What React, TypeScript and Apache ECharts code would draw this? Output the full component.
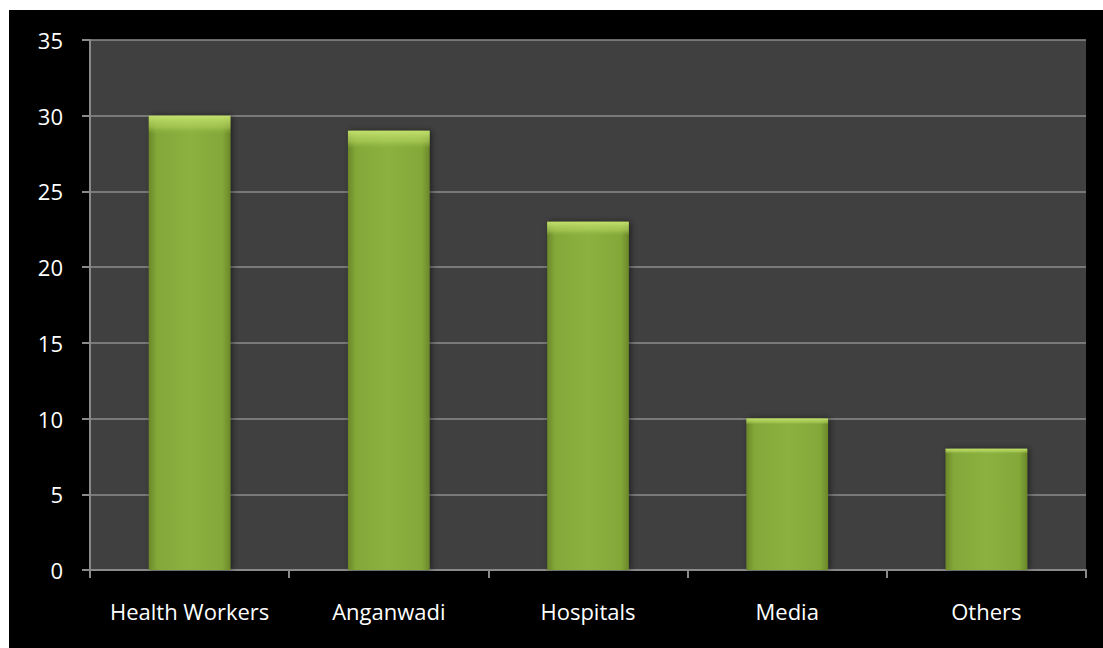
import React, { useEffect, useRef } from "react";
import * as echarts from "echarts";

const categories = ["Health Workers", "Anganwadi", "Hospitals", "Media", "Others"];
const values = [30, 29, 23, 10, 8];
const yMin = 0;
const yMax = 35;
const yInterval = 5;

export default function App() {
  const ref = useRef<HTMLDivElement>(null);
  useEffect(() => {
    document.body.style.margin = "0";
    const chart = echarts.init(ref.current!, null, { renderer: "svg" });
    const font = "'Open Sans', 'Liberation Sans', sans-serif";
    chart.setOption({
      animation: false,
      backgroundColor: "#000000",
      grid: { left: 81, right: 17, top: 30, bottom: 78, show: true, backgroundColor: "#404040", borderWidth: 0 },
      xAxis: {
        type: "category",
        data: categories,
        boundaryGap: true,
        axisLine: { show: true, lineStyle: { color: "#8a8a8a", width: 2 } },
        axisTick: { show: true, interval: 0, length: 8, alignWithLabel: false, lineStyle: { color: "#8a8a8a", width: 2 } },
        axisLabel: { interval: 0, hideOverlap: false, color: "#ffffff", fontSize: 22, fontFamily: font, margin: 30 },
        splitLine: { show: false },
      },
      yAxis: {
        type: "value",
        min: yMin,
        max: yMax,
        interval: yInterval,
        axisLine: { show: true, lineStyle: { color: "#8a8a8a", width: 2 } },
        axisTick: { show: true, length: 8, lineStyle: { color: "#8a8a8a", width: 2 } },
        axisLabel: { color: "#ffffff", fontSize: 22, fontFamily: font, margin: 27 },
        splitLine: { show: true, lineStyle: { color: "#8c8c8c", width: 1.5 } },
      },
      series: [
        {
          type: "bar",
          data: values,
          barWidth: "41%",
          itemStyle: {
            color: new echarts.graphic.LinearGradient(0, 0, 1, 0, [
              { offset: 0, color: "#6a8829" },
              { offset: 0.1, color: "#84a839" },
              { offset: 0.5, color: "#8cb140" },
              { offset: 0.9, color: "#84a839" },
              { offset: 1, color: "#6a8829" },
            ]),
            shadowColor: "rgba(0,0,0,0.5)",
            shadowBlur: 6,
            shadowOffsetX: 2,
            shadowOffsetY: 0,
          },
        },
        {
          type: "bar",
          data: values.map((v) => v),
          barWidth: "41%",
          barGap: "-100%",
          itemStyle: {
            color: new echarts.graphic.LinearGradient(0, 0, 0, 1, [
              { offset: 0, color: "rgba(196,226,110,0.95)" },
              { offset: 0.025, color: "rgba(180,212,95,0.55)" },
              { offset: 0.04, color: "rgba(150,190,70,0)" },
              { offset: 1, color: "rgba(150,190,70,0)" },
            ]),
          },
          silent: true,
        },
      ],
    });
    return () => chart.dispose();
  }, []);
  return (
    <div style={{ position: "absolute", left: 0, top: 0, width: 1103, height: 648, background: "#ffffff" }}>
      <div ref={ref} style={{ position: "absolute", left: 9, top: 10, width: 1094, height: 638 }} />
    </div>
  );
}
